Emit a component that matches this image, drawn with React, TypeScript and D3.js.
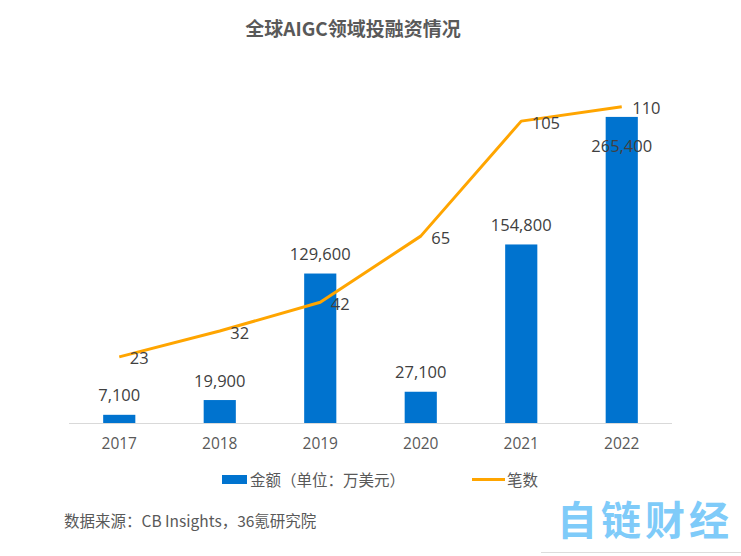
import React from "react";
import * as d3 from "d3";

const years = ["2017", "2018", "2019", "2020", "2021", "2022"];
const amounts = [7100, 19900, 129600, 27100, 154800, 265400];
const counts = [23, 32, 42, 65, 105, 110];
const title = "全球AIGC领域投融资情况";
const legendBar = "金额（单位：万美元）";
const legendLine = "笔数";
const source = "数据来源：CB Insights，36氪研究院";
const watermark = ["自", "链", "财", "经"];

const W = 741;
const H = 556;
const FONT = "'Open Sans', 'Noto Sans CJK SC', sans-serif";
const CJK = "'Noto Sans CJK SC', sans-serif";

export default function App() {
  const x = d3.scaleBand<string>().domain(years).range([69, 672]).paddingInner(0.68).paddingOuter(0.34);
  const yBar = d3.scaleLinear().domain([0, 300000]).range([423, 77]);
  const yLine = d3.scaleLinear().domain([0, 120]).range([423, 78]);
  const cx = (d: string) => (x(d) as number) + x.bandwidth() / 2;
  const fmt = d3.format(",");
  const line = d3
    .line<number>()
    .x((_, i) => cx(years[i]))
    .y((d) => yLine(d));

  return (
    <svg
      width={W}
      height={H}
      style={{ position: "absolute", left: 0, top: 0, background: "#fff" }}
    >
      <text x={353} y={27} textAnchor="middle" dominantBaseline="central" fontFamily={CJK} fontWeight="bold" fontSize={19} fill="#595959">
        {title}
      </text>
      {amounts.map((v, i) => (
        <rect key={i} x={x(years[i])} y={yBar(v)} width={x.bandwidth()} height={423 - yBar(v)} fill="#0073CF" />
      ))}
      <line x1={69} x2={672} y1={423.5} y2={423.5} stroke="#d9d9d9" strokeWidth={1} />
      {years.map((y) => (
        <text key={y} x={cx(y)} y={443} textAnchor="middle" dominantBaseline="central" fontFamily={FONT} fontSize={15.5} fill="#595959">
          {y}
        </text>
      ))}
      <path d={line(counts) || ""} fill="none" stroke="#FFA500" strokeWidth={3} strokeLinejoin="round" />
      {amounts.map((v, i) => {
        const inside = i === amounts.length - 1;
        const ty = inside ? yBar(v) + 29 : yBar(v) - 20;
        return (
          <text key={i} x={cx(years[i])} y={ty} textAnchor="middle" dominantBaseline="central" fontFamily={FONT} fontSize={16.5} fill="#404040">
            {fmt(v)}
          </text>
        );
      })}
      {counts.map((v, i) => (
        <text key={i} x={cx(years[i]) + 10.5} y={yLine(v) + 1} textAnchor="start" dominantBaseline="central" fontFamily={FONT} fontSize={16.5} fill="#404040">
          {v}
        </text>
      ))}
      <rect x={222} y={475} width={25} height={9} fill="#0073CF" />
      <text x={250} y={479} dominantBaseline="central" fontFamily={CJK} fontSize={15.5} fill="#595959">
        {legendBar}
      </text>
      <line x1={472} x2={505} y1={479.5} y2={479.5} stroke="#FFA500" strokeWidth={3} />
      <text x={507} y={479} dominantBaseline="central" fontFamily={CJK} fontSize={15.5} fill="#595959">
        {legendLine}
      </text>
      <text x={64} y={520} dominantBaseline="central" fontFamily={CJK} fontSize={15.5} fill="#595959">
        {source}
      </text>
      {watermark.map((c, i) => (
        <text key={i} x={577 + i * 44} y={518} textAnchor="middle" dominantBaseline="central" fontFamily={CJK} fontWeight="bold" fontSize={40} fill="#7FCBF9">
          {c}
        </text>
      ))}
      <line x1={541} x2={741} y1={552.5} y2={552.5} stroke="#dcdcdc" strokeWidth={1} />
    </svg>
  );
}
